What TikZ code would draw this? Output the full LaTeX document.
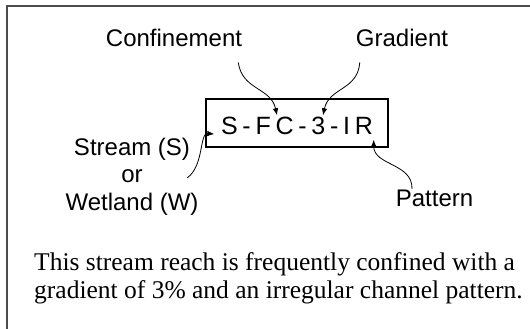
\documentclass[tikz,border=0pt]{standalone}
\usepackage{fontspec}
\setmainfont{Liberation Sans}
\newfontfamily\timesfont{Liberation Serif}
\newfontfamily\codefont[LetterSpace=19]{Liberation Sans}
\usetikzlibrary{arrows.meta}

\begin{document}
\begin{tikzpicture}[x=1pt, y=-1pt,
    partname/.style={font=\fontsize{24}{27.5}\selectfont, inner sep=0pt},
    pointer/.style={-{Latex[length=7pt,width=5.5pt]}, line width=0.8pt}]
\useasboundingbox (0,0) rectangle (530,329);
\draw[line width=1.2pt, black!70] (7,329) |- (530,6);

\node[draw, line width=1.4pt, minimum width=182pt, minimum height=48pt, inner sep=0pt,
    text height=22pt, text depth=0pt,
    font=\codefont\fontsize{25}{30}\selectfont] (code) at (297,123) {S-FC-3-IR};
\node[partname, anchor=base] (conf) at (174,47) {Confinement};
\node[partname, anchor=base] (grad) at (402,47) {Gradient};
\node[partname, align=center] (kind) at (132,176.5) {Stream (S)\\or\\Wetland (W)};
\node[partname, anchor=base] (patt) at (434.5,206.8) {Pattern};
\node[font=\timesfont\fontsize{25.5}{27.5}\selectfont, align=left, anchor=base west, inner sep=0pt]
    (note) at (34,298) {This stream reach is frequently confined with a\\gradient of 3\% and an irregular channel pattern.};

\draw[pointer] ([shift={(-4,15)}]conf.south east) .. controls +(4,28) and +(-6,-28) .. ([shift={(-20,17)}]code.north);
\draw[pointer] ([shift={(4,15)}]grad.south west) .. controls +(-2,28) and +(6,-28) .. ([shift={(26,17)}]code.north);
\draw[pointer] ([shift={(-11.5,1.4)}]kind.east) .. controls +(17,-12) and +(-15,-1) .. ([shift={(9,11)}]code.west);
\draw[pointer] ([shift={(-22.5,-1)}]patt.north) .. controls +(1,-26) and +(0,26) .. ([shift={(-15,-8)}]code.south east);
\end{tikzpicture}
\end{document}
